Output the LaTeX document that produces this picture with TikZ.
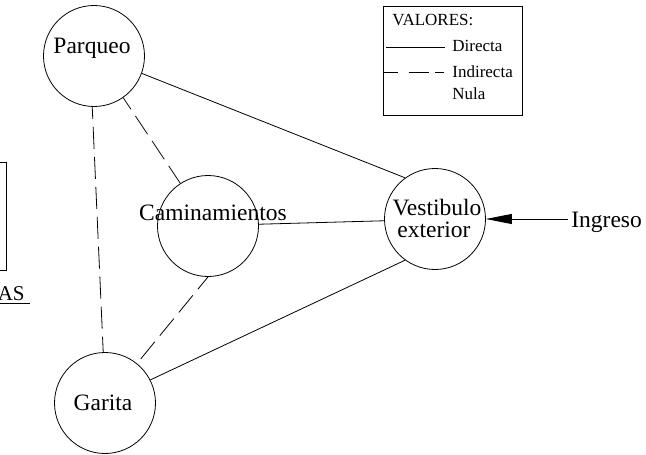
\documentclass[tikz,border=0pt]{standalone}
\usepackage{fontspec}
\setmainfont{Liberation Serif}
\usetikzlibrary{arrows.meta}
\begin{document}
\begin{tikzpicture}[x=1pt,y=-1pt,
  every path/.style={line width=0.8pt},
  zone/.style={circle,draw,line width=0.8pt,minimum size=101pt,inner sep=0pt},
  bigtxt/.style={font=\fontsize{23.5}{23}\selectfont,inner sep=0pt},
  smalltxt/.style={font=\fontsize{17}{17}\selectfont,inner sep=0pt},
  direct/.style={draw,line width=0.8pt},
  indirect/.style={draw,line width=0.8pt,dash pattern=on 22pt off 8pt},
  legendbox/.style={draw,line width=0.8pt,inner sep=0pt}]
\useasboundingbox (0,0) rectangle (646,455);

% partial frame at left edge
\draw[line width=0.8pt] (-40,162) -- (6,162) -- (6,270) -- (-40,270);
\node[bigtxt,font=\fontsize{21}{21}\selectfont,anchor=base east] (as) at (25,300) {AS};
\coordinate (ulA) at (-5,303);
\coordinate (ulB) at (30,303);
\draw (ulA) -- (ulB);

% zones
\node[zone] (parq) at (94,56) {};
\node[zone] (cam) at (208,226) {};
\node[zone] (gar) at (105,403) {};
\node[zone] (vest) at (435,219) {};

\node[bigtxt,anchor=base] (parqT) at (92,53) {Parqueo};
\node[bigtxt,anchor=base] (camT) at (213,220) {Caminamientos};
\node[bigtxt,anchor=base] (garT) at (103,410) {Garita};
\node[bigtxt,anchor=base] (vestT1) at (437,215) {Vestibulo};
\node[bigtxt,anchor=base] (vestT2) at (434,237) {exterior};

% relations
\draw[direct] (parq.340) -- (vest.126);
\draw[indirect,dash phase=8pt] (parq.305) -- (cam.123);
\draw[indirect,dash phase=10pt] (parq.268) -- (gar.92);
\draw[direct] (cam.2) -- (vest.182);
\draw[indirect,dash phase=6pt] (cam.270) -- (gar.51);
\draw[direct] (gar.27) -- (vest.234);

% entrance
\node[bigtxt,anchor=base west] (ing) at (571,227) {Ingreso};
\coordinate (ingA) at (568,219);
\draw[-{Triangle[length=26pt,width=10pt]}] (ingA) -- (vest.east);

% legend
\node[legendbox,minimum width=139pt,minimum height=109pt] (leg) at (452.5,60.5) {};
\node[smalltxt,anchor=base west] (legT) at (392,25) {VALORES:};
\coordinate (l1a) at (386,47);
\coordinate (l1b) at (445,47);
\draw[direct] (l1a) -- (l1b);
\node[smalltxt,anchor=base west] (dirT) at (452,52) {Directa};
\coordinate (l2a) at (384,72);
\coordinate (l2b) at (444,72);
\draw[indirect,dash pattern=on 14pt off 11pt on 20pt off 6pt] (l2a) -- (l2b);
\node[smalltxt,anchor=base west] (indT) at (452,77) {Indirecta};
\node[smalltxt,anchor=base west] (nulT) at (452,99) {Nula};
\end{tikzpicture}
\end{document}
